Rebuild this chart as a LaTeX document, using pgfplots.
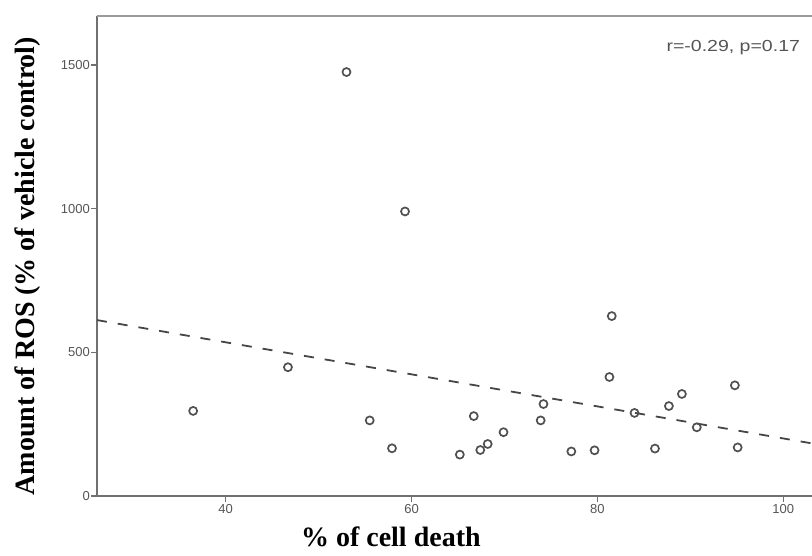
\documentclass[border=0pt]{standalone}
\usepackage{fontspec}
\setmainfont{Liberation Serif}
\setsansfont{Liberation Sans}
\usepackage{graphicx}
\usepackage{pgfplots}
\pgfplotsset{compat=1.18}
\definecolor{axisgray}{RGB}{112,112,112}
\definecolor{tickgray}{RGB}{85,85,85}
\definecolor{markgray}{RGB}{80,80,80}
\definecolor{linegray}{RGB}{70,70,70}
\begin{document}
\begin{tikzpicture}
\path[use as bounding box] (-97pt,-59pt) rectangle (715pt,496pt);
\begin{axis}[
  scale only axis,
  width=715pt, height=480pt,
  xmin=26.15, xmax=103.1,
  ymin=0, ymax=1670,
  axis x line*=bottom,
  axis y line*=left,
  axis line style={draw=axisgray, line width=1.8pt},
  xtick={40,60,80,100},
  ytick={0,500,1000,1500},
  tick align=outside,
  major tick length=6pt,
  tick style={draw=axisgray, line width=1.3pt},
  /pgf/number format/assume math mode=true,
  /pgf/number format/set thousands separator={},
  ticklabel style={font=\fontsize{13}{13}\selectfont\sffamily, text=tickgray},
  yticklabel style={inner sep=1pt},
  xticklabel style={inner sep=2pt},
  xlabel={\% of cell death},
  ylabel={Amount of ROS (\% of vehicle control)},
  xlabel style={at={(axis description cs:0.411,-0.106)}, anchor=base, font=\fontsize{28}{28}\selectfont\bfseries},
  ylabel style={at={(axis description cs:-0.0965,0.479)}, anchor=center, font=\fontsize{28}{28}\selectfont\bfseries},
  clip=false,
]
\addplot[only marks, mark=o, mark size=4pt, mark options={draw=markgray, line width=1.7pt}] coordinates {
(36.5,296) (46.7,448) (53.0,1475) (59.3,990) (55.5,263) (57.9,166)
(65.2,144) (66.7,278) (67.4,160) (68.2,181) (69.9,222) (74.2,320)
(73.9,263) (77.2,155) (79.7,159) (81.55,626) (81.3,414) (84.0,289)
(86.2,165) (87.7,313) (89.1,355) (90.7,239) (94.8,385) (95.1,169)
};
\addplot[draw=linegray, line width=1.8pt, dash pattern=on 10pt off 11pt] coordinates {(26.15,612) (103.1,183)};
\draw[draw=axisgray!70, line width=1.8pt] (rel axis cs:0,1) -- (rel axis cs:1.02,1);
\node[anchor=west, text=tickgray, font=\fontsize{16}{16}\selectfont\sffamily] at (rel axis cs:0.7916,0.9335) {\scalebox{1.22}[1]{r=-0.29, p=0.17}};
\end{axis}
\end{tikzpicture}
\end{document}
